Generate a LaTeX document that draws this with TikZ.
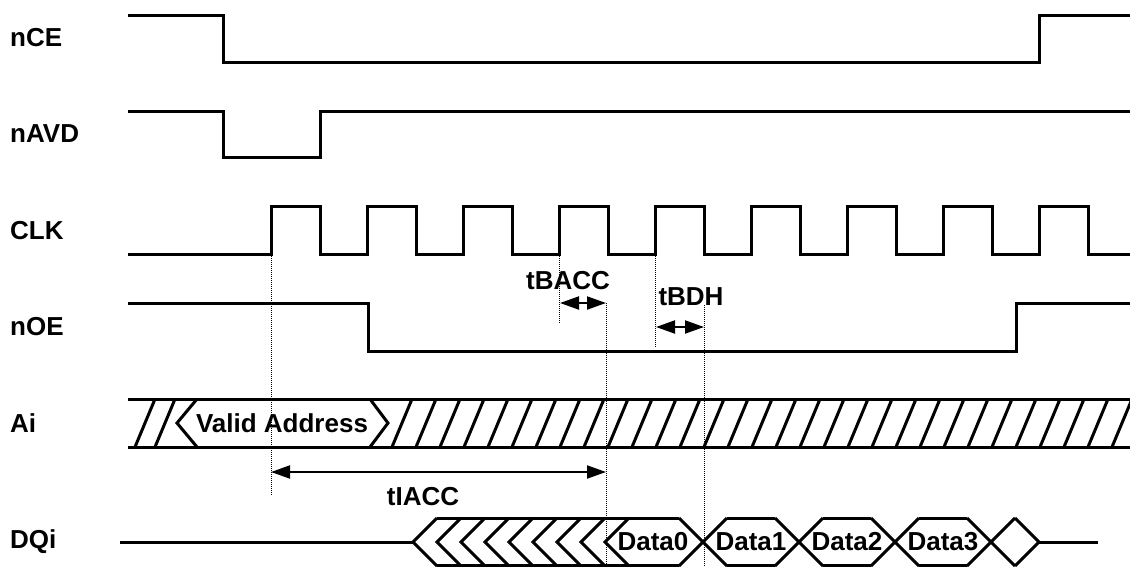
\documentclass[tikz,border=0pt]{standalone}
\usepackage{fontspec}
\setmainfont{Liberation Sans}
\usetikzlibrary{arrows.meta}
\begin{document}
\begin{tikzpicture}[x=1pt,y=-1pt,
  sig/.style={line width=3pt, line join=miter},
  hatch/.style={line width=3pt},
  guide/.style={line width=1pt, dash pattern=on 1pt off 1pt},
  dim/.style={line width=2pt, {Triangle[length=19pt,width=13pt]}-{Triangle[length=19pt,width=13pt]}},
  lbl/.style={font=\fontsize{26}{30}\selectfont\bfseries, inner sep=0pt},
  rowlbl/.style={lbl, anchor=west}]
\useasboundingbox (0,0) rectangle (1130,566);
\clip (0,0) rectangle (1130,566);
% row labels
\node[rowlbl] (lce)  at (10,38)  {nCE};
\node[rowlbl] (lavd) at (10,134) {nAVD};
\node[rowlbl] (lclk) at (10,231) {CLK};
\node[rowlbl] (loe)  at (10,327) {nOE};
\node[rowlbl] (lai)  at (10,423) {Ai};
\node[rowlbl] (ldq)  at (10,542) {DQi};
% nCE
\draw[sig] (128,15) -| (223,62) -| (1039,15) -- (1130,15);
% nAVD
\draw[sig] (128,111) -| (223,157) -| (320,111) -- (1130,111);
% CLK
\draw[sig] (128,254) -| (271,206) -| (320,254) -| (367,206) -| (416,254) -| (463,206) -| (512,254)
  -| (559,206) -| (608,254) -| (655,206) -| (704,254) -| (751,206) -| (800,254) -| (847,206)
  -| (896,254) -| (943,206) -| (992,254) -| (1039,206) -| (1088,254) -- (1130,254);
% nOE
\draw[sig] (128,303) -| (368,351) -| (1016,303) -- (1130,303);
% Ai bus
\draw[sig] (128,399) -- (1130,399);
\draw[sig] (128,447) -- (1130,447);
\draw[hatch] (135,447) -- (155,399);
\draw[hatch] (155,447) -- (175,399);
\draw[sig] (197,399) -- (177,423) -- (197,447);
\draw[sig] (370,399) -- (388,423) -- (370,447);
\foreach \k in {0,...,30} {
  \draw[hatch] ({392+24*\k},447) -- ({412+24*\k},399);
}
\node[lbl] (va) at (282,423) {Valid Address};
% DQi bus
\draw[sig] (120,542) -- (413,542);
\foreach \p in {413,437,461,485,509,533,557,581,605} {
  \draw[sig] ({\p+24},518) -- (\p,542) -- ({\p+24},566);
}
\draw[sig] (437,518) -- (679,518);
\draw[sig] (437,565) -- (679,565);
\foreach \c in {703,799,895,991} {
  \draw[sig] ({\c-24},518) -- ({\c+24},566);
  \draw[sig] ({\c-24},566) -- ({\c+24},518);
}
\foreach \a in {727,823,919} {
  \draw[sig] (\a,518) -- ({\a+48},518);
  \draw[sig] (\a,565) -- ({\a+48},565);
}
\draw[sig] (1015,518) -- (1039,542) -- (1015,566);
\draw[sig] (1039,542) -- (1098,542);
\node[lbl] (d0) at (653,542) {Data0};
\node[lbl] (d1) at (751,542) {Data1};
\node[lbl] (d2) at (847,542) {Data2};
\node[lbl] (d3) at (943,542) {Data3};
% guides
\coordinate (g1a) at (271,256); \coordinate (g1b) at (271,495);
\coordinate (g2a) at (559,256); \coordinate (g2b) at (559,323);
\coordinate (g3a) at (655,256); \coordinate (g3b) at (655,348);
\coordinate (g4a) at (606,303); \coordinate (g4b) at (606,566);
\coordinate (g5a) at (704,305); \coordinate (g5b) at (704,566);
\draw[guide] (g1a) -- (g1b);
\draw[guide] (g2a) -- (g2b);
\draw[guide] (g3a) -- (g3b);
\draw[guide] (g4a) -- (g4b);
\draw[guide] (g5a) -- (g5b);
% dimension arrows
\coordinate (ia) at (271,472); \coordinate (ib) at (606,472);
\coordinate (ba) at (560,303); \coordinate (bb) at (606,303);
\coordinate (ha) at (656,327); \coordinate (hb) at (704,327);
\draw[dim] (ia) -- (ib);
\draw[dim] (ba) -- (bb);
\draw[dim] (ha) -- (hb);
\node[lbl] (tiacc) at (423,497) {tIACC};
\node[lbl] (tbacc) at (568,281) {tBACC};
\node[lbl] (tbdh)  at (691,297) {tBDH};
\end{tikzpicture}
\end{document}
